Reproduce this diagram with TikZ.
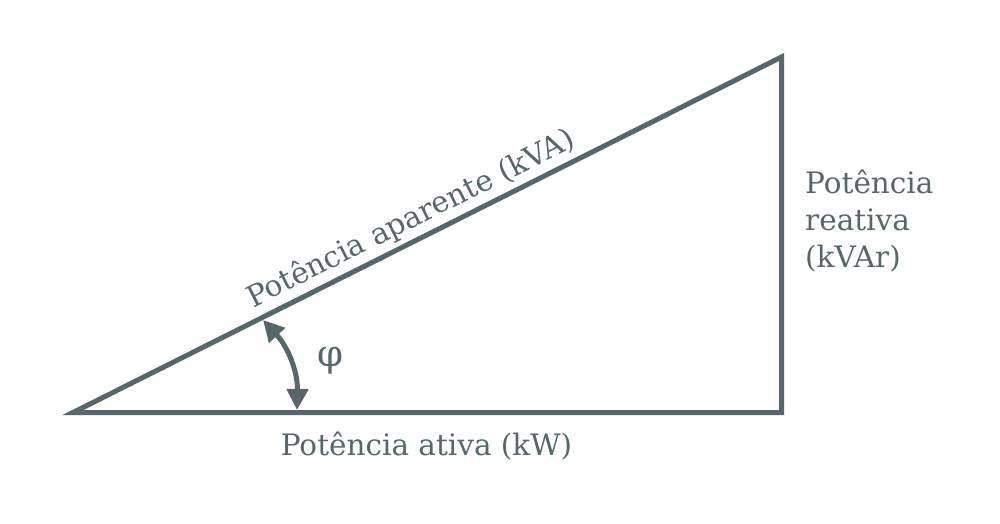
\documentclass[tikz,border=0pt]{standalone}
\usepackage{fontspec}
\setmainfont{DejaVu Serif}
\usetikzlibrary{arrows.meta}
\definecolor{ink}{HTML}{57666A}
\begin{document}
\begin{tikzpicture}[x=1pt,y=-1pt,
  edge/.style={draw=ink,line width=5pt},
  lbl/.style={text=ink,font=\fontsize{29.5}{37}\selectfont,inner sep=0pt},
  angarrow/.style={draw=ink,line width=5pt,{Triangle[length=21pt,width=21pt]}-{Triangle[length=21pt,width=21pt]}}]
\useasboundingbox (0,0) rectangle (1000,524);
\coordinate (A) at (73,412.5);
\coordinate (B) at (781.5,412.5);
\coordinate (C) at (781.5,57);
\draw[edge,line join=miter] (A) -- (B) -- (C) -- cycle;
\coordinate (p) at (263,320);
\coordinate (q) at (297,410);
\draw[angarrow] (p) to[bend left=22] (q);
\node[lbl,font=\fontsize{37}{40}\selectfont] (phi) at (330,361) {φ};
\node[lbl,anchor=base,rotate=26.64] (hyp) at (415,227) {Potência aparente (kVA)};
\node[lbl,anchor=base] (bot) at (426.5,455) {Potência ativa (kW)};
\node[lbl,anchor=base west] (rt1) at (805,193) {Potência};
\node[lbl,anchor=base west] (rt2) at (805,230) {reativa};
\node[lbl,anchor=base west] (rt3) at (805,267) {(kVAr)};
\end{tikzpicture}
\end{document}
